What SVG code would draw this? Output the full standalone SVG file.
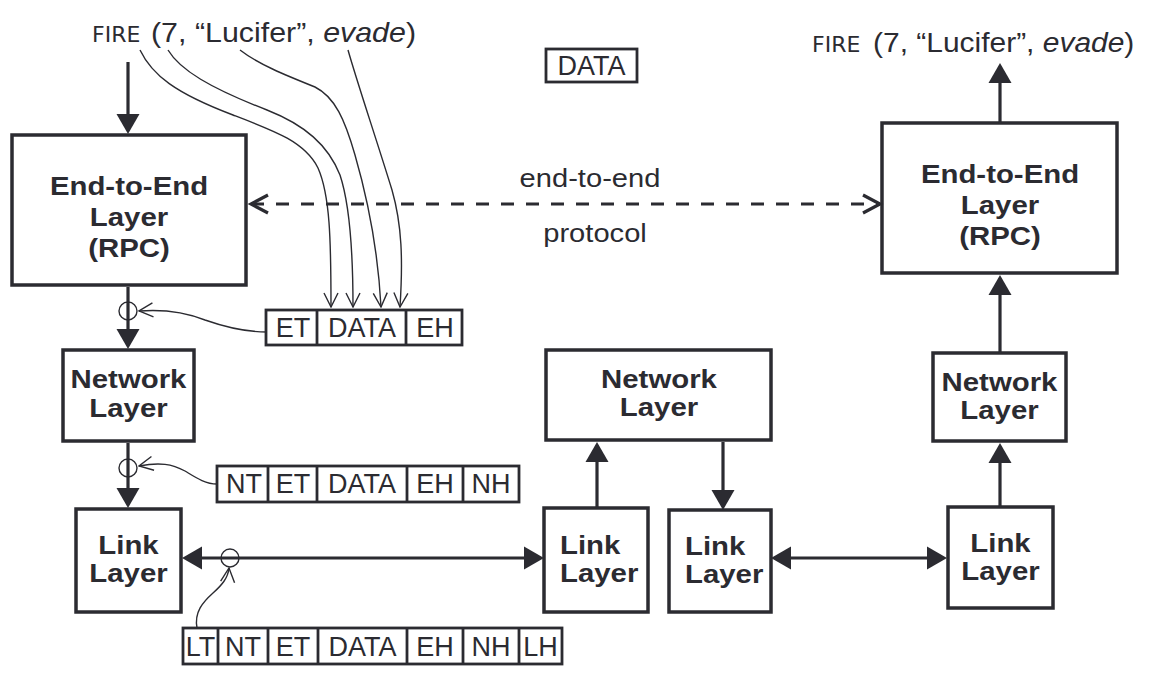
<svg xmlns="http://www.w3.org/2000/svg" width="1170" height="680" viewBox="0 0 1170 680">
<style>
 .box{fill:#fff;stroke:#2b2b31;stroke-width:3.5}
 .pkt{fill:#fff;stroke:#2b2b31;stroke-width:2.8}
 .dv{stroke:#2b2b31;stroke-width:2.8}
 .conn{fill:none;stroke:#2b2b31;stroke-width:3.2}
 .dash{fill:none;stroke:#2b2b31;stroke-width:3;stroke-dasharray:13 12}
 .thin{fill:none;stroke:#2b2b31;stroke-width:1.4}
 .lbl{font-family:"Liberation Sans",Arial,sans-serif;font-weight:bold;font-size:26px;fill:#2b2b31}
 .pk{font-family:"Liberation Sans",Arial,sans-serif;font-size:27px;fill:#2b2b31;text-anchor:middle}
 .txt{font-family:"Liberation Sans",Arial,sans-serif;font-size:26px;fill:#2b2b31}
 .arg{font-family:"Liberation Sans",Arial,sans-serif;font-size:28px;fill:#2b2b31}
 .sc{font-family:"DejaVu Sans",sans-serif;font-size:22px;fill:#2b2b31}
 .mid{text-anchor:middle}
</style>
<defs>
 <marker id="solid" viewBox="0 -12 20 24" refX="0" refY="0" markerWidth="20" markerHeight="24" markerUnits="userSpaceOnUse" orient="auto-start-reverse"><path d="M0,-11.5 L20,0 L0,11.5 Z" fill="#2b2b31"/></marker>
 <marker id="open" viewBox="0 0 16 16" refX="15" refY="8" markerWidth="16" markerHeight="16" markerUnits="userSpaceOnUse" orient="auto"><path d="M1,1 L15,8 L1,15" fill="none" stroke="#2b2b31" stroke-width="1.4"/></marker>
</defs>

<g id="call-left">
 <text class="sc" x="92" y="42">FIRE</text>
 <text class="arg" transform="translate(151,42) scale(1.085,1)">(7, “Lucifer”, <tspan font-style="italic">evade</tspan>)</text>
</g>
<g id="call-right">
 <text class="sc" x="812" y="52">FIRE</text>
 <text class="arg" transform="translate(873,52) scale(1.07,1)">(7, “Lucifer”, <tspan font-style="italic">evade</tspan>)</text>
</g>

<g id="data-legend">
 <rect class="pkt" x="546" y="49" width="91" height="33" stroke-width="2.5"/>
 <text class="pk" x="591.5" y="75">DATA</text>
</g>

<g id="e2e-left">
 <rect class="box" x="12" y="135" width="234" height="150"/>
 <text class="lbl mid" transform="translate(129,195) scale(1.13,1)">End-to-End</text>
 <text class="lbl mid" transform="translate(129,226) scale(1.13,1)">Layer</text>
 <text class="lbl mid" transform="translate(129,257) scale(1.13,1)">(RPC)</text>
</g>
<g id="net-left">
 <rect class="box" x="63" y="350" width="131" height="91"/>
 <text class="lbl mid" transform="translate(128.5,388) scale(1.13,1)">Network</text>
 <text class="lbl mid" transform="translate(128.5,417) scale(1.13,1)">Layer</text>
</g>
<g id="link-left">
 <rect class="box" x="76" y="509" width="105" height="103"/>
 <text class="lbl mid" transform="translate(128.5,554) scale(1.13,1)">Link</text>
 <text class="lbl mid" transform="translate(128.5,582) scale(1.13,1)">Layer</text>
</g>

<g id="net-mid">
 <rect class="box" x="546" y="350" width="225" height="90"/>
 <text class="lbl mid" transform="translate(659,388) scale(1.13,1)">Network</text>
 <text class="lbl mid" transform="translate(659,416) scale(1.13,1)">Layer</text>
</g>
<g id="link-mid-a">
 <rect class="box" x="544" y="508" width="104" height="104"/>
 <text class="lbl" transform="translate(560,554) scale(1.13,1)">Link</text>
 <text class="lbl" transform="translate(560,582) scale(1.13,1)">Layer</text>
</g>
<g id="link-mid-b">
 <rect class="box" x="669" y="510" width="102" height="102"/>
 <text class="lbl" transform="translate(685,555) scale(1.13,1)">Link</text>
 <text class="lbl" transform="translate(685,583) scale(1.13,1)">Layer</text>
</g>

<g id="e2e-right">
 <rect class="box" x="882" y="123" width="235" height="150"/>
 <text class="lbl mid" transform="translate(1000,183) scale(1.13,1)">End-to-End</text>
 <text class="lbl mid" transform="translate(1000,214) scale(1.13,1)">Layer</text>
 <text class="lbl mid" transform="translate(1000,245) scale(1.13,1)">(RPC)</text>
</g>
<g id="net-right">
 <rect class="box" x="933" y="353" width="133" height="88"/>
 <text class="lbl mid" transform="translate(999.5,391) scale(1.13,1)">Network</text>
 <text class="lbl mid" transform="translate(999.5,419) scale(1.13,1)">Layer</text>
</g>
<g id="link-right">
 <rect class="box" x="948" y="507" width="105" height="101"/>
 <text class="lbl mid" transform="translate(1000.5,552) scale(1.13,1)">Link</text>
 <text class="lbl mid" transform="translate(1000.5,580) scale(1.13,1)">Layer</text>
</g>

<g id="packet-e">
 <rect class="pkt" x="266" y="310" width="196" height="35"/>
 <line class="dv" x1="317" y1="310" x2="317" y2="345"/>
 <line class="dv" x1="406" y1="310" x2="406" y2="345"/>
 <text class="pk" x="293" y="337">ET</text>
 <text class="pk" x="362" y="337">DATA</text>
 <text class="pk" x="435" y="337">EH</text>
</g>
<g id="packet-n">
 <rect class="pkt" x="217" y="466" width="302" height="36"/>
 <line class="dv" x1="268" y1="466" x2="268" y2="502"/>
 <line class="dv" x1="317" y1="466" x2="317" y2="502"/>
 <line class="dv" x1="407" y1="466" x2="407" y2="502"/>
 <line class="dv" x1="463" y1="466" x2="463" y2="502"/>
 <text class="pk" x="244" y="493">NT</text>
 <text class="pk" x="293" y="493">ET</text>
 <text class="pk" x="362" y="493">DATA</text>
 <text class="pk" x="435" y="493">EH</text>
 <text class="pk" x="491" y="493">NH</text>
</g>
<g id="packet-l">
 <rect class="pkt" x="183" y="628" width="379" height="36"/>
 <line class="dv" x1="218" y1="628" x2="218" y2="664"/>
 <line class="dv" x1="268" y1="628" x2="268" y2="664"/>
 <line class="dv" x1="318" y1="628" x2="318" y2="664"/>
 <line class="dv" x1="407" y1="628" x2="407" y2="664"/>
 <line class="dv" x1="463" y1="628" x2="463" y2="664"/>
 <line class="dv" x1="519" y1="628" x2="519" y2="664"/>
 <text class="pk" x="200.5" y="656">LT</text>
 <text class="pk" x="243" y="656">NT</text>
 <text class="pk" x="293" y="656">ET</text>
 <text class="pk" x="362.5" y="656">DATA</text>
 <text class="pk" x="435" y="656">EH</text>
 <text class="pk" x="491" y="656">NH</text>
 <text class="pk" x="540.5" y="656">LH</text>
</g>

<g id="connectors">
 <line class="conn" x1="128" y1="62" x2="128" y2="114" marker-end="url(#solid)"/>
 <line class="conn" x1="128" y1="287" x2="128" y2="329" marker-end="url(#solid)"/>
 <line class="conn" x1="128" y1="443" x2="128" y2="488" marker-end="url(#solid)"/>
 <line class="conn" x1="202" y1="558" x2="524" y2="558" marker-start="url(#solid)" marker-end="url(#solid)"/>
 <line class="conn" x1="597" y1="508" x2="597" y2="462" marker-end="url(#solid)"/>
 <line class="conn" x1="723" y1="442" x2="723" y2="490" marker-end="url(#solid)"/>
 <line class="conn" x1="791" y1="558" x2="927" y2="558" marker-start="url(#solid)" marker-end="url(#solid)"/>
 <line class="conn" x1="1000" y1="507" x2="1000" y2="463" marker-end="url(#solid)"/>
 <line class="conn" x1="1000" y1="353" x2="1000" y2="295" marker-end="url(#solid)"/>
 <line class="conn" x1="1000" y1="123" x2="1000" y2="83" marker-end="url(#solid)"/>
 <line class="dash" x1="251" y1="204" x2="880" y2="204"/>
 <polyline class="conn" stroke-width="3" points="268,195 251,204 268,213"/>
 <polyline class="conn" stroke-width="3" points="863,195 880,204 863,213"/>
 <circle class="thin" cx="128" cy="311" r="9"/>
 <circle class="thin" cx="128" cy="468" r="9"/>
 <circle class="thin" cx="230" cy="558" r="9"/>
 <path class="thin" d="M267,332 C245,332 225,327 205,320 C185,312 165,309 139,311" marker-end="url(#open)"/>
 <path class="thin" d="M217,484 C205,484 195,477 185,471 C172,464 160,462 139,466" marker-end="url(#open)"/>
 <path class="thin" d="M197,628 C194,612 203,602 213,593 C222,585 228,578 229,568" marker-end="url(#open)"/>
 <path class="thin" d="M140,50 C152,75 175,93 233,115 C275,131 305,142 318,168 C330,195 331,240 331,307" marker-end="url(#open)"/>
 <path class="thin" d="M168,50 C180,70 210,88 267,110 C305,125 328,145 340,175 C350,205 353,250 353,307" marker-end="url(#open)"/>
 <path class="thin" d="M240,50 C258,64 285,75 315,87 C335,97 345,120 355,155 C368,200 378,250 381,307" marker-end="url(#open)"/>
 <path class="thin" d="M348,50 C358,85 375,135 392,190 C402,225 403,260 400,307" marker-end="url(#open)"/>
</g>

<g id="protocol-label">
 <text class="txt mid" transform="translate(590,187) scale(1.12,1)">end-to-end</text>
 <text class="txt mid" transform="translate(595,242) scale(1.12,1)">protocol</text>
</g>
</svg>
